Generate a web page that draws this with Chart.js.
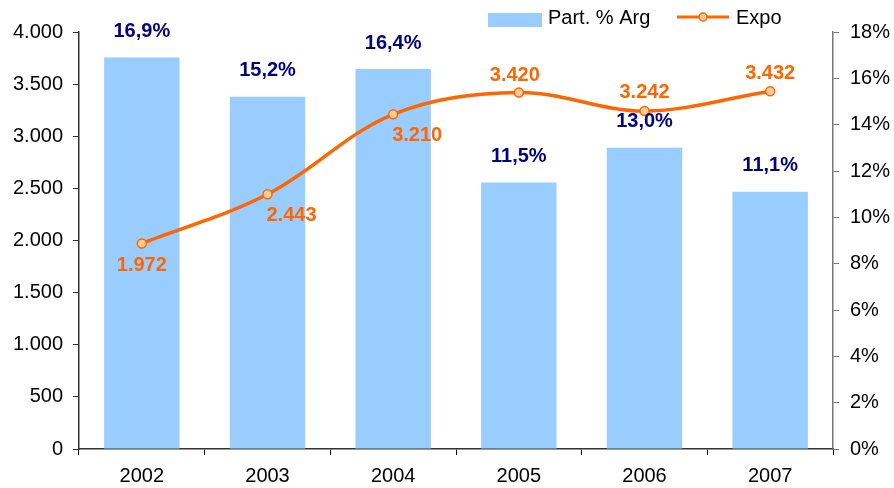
<!DOCTYPE html>
<html>
<head>
<meta charset="utf-8">
<script src="https://cdn.jsdelivr.net/npm/chart.js@4.4.0/dist/chart.umd.min.js"></script>
<style>
  body { margin: 0; background: #fff; }
  #wrap { width: 894px; height: 488px; }
</style>
</head>
<body>
<div id="wrap"><canvas id="myChart" width="894" height="488"></canvas></div>
<script>
const years = ["2002", "2003", "2004", "2005", "2006", "2007"];
const partArg = [16.9, 15.2, 16.4, 11.5, 13.0, 11.1];
const expo = [1972, 2443, 3210, 3420, 3242, 3432];

const BAR_COLOR = '#99CCFF';
const LINE_COLOR = '#FF6600';
const NAVY = '#000080';
const FONT = '"Liberation Sans", Arial, sans-serif';

function fmtThousands(v) {
    return v.toString().replace(/\B(?=(\d{3})+(?!\d))/g, '.');
}

// labels on bars and on the line points
const valueLabels = {
    id: 'valueLabels',
    afterDatasetsDraw(chart) {
        const ctx = chart.ctx;
        ctx.save();
        ctx.font = 'bold 20px ' + FONT;
        ctx.textAlign = 'center';
        ctx.textBaseline = 'middle';

        const barMeta = chart.getDatasetMeta(0);
        ctx.fillStyle = NAVY;
        barMeta.data.forEach((bar, i) => {
            ctx.fillText(partArg[i].toFixed(1).replace('.', ',') + '%', bar.x, bar.y - 26);
        });

        const lineMeta = chart.getDatasetMeta(1);
        // where each Expo label sits relative to its point
        const lineShift = [[0, 22], [24, 21], [24, 21], [-4, -17], [0, -19], [0, -18]];
        ctx.fillStyle = LINE_COLOR;
        lineMeta.data.forEach((pt, i) => {
            ctx.fillText(fmtThousands(expo[i]), pt.x + lineShift[i][0], pt.y + lineShift[i][1]);
        });
        ctx.restore();
    }
};

// legend drawn by hand so the line entry shows line + marker
const customLegend = {
    id: 'customLegend',
    afterDraw(chart) {
        const ctx = chart.ctx;
        ctx.save();
        ctx.font = '20px ' + FONT;
        ctx.textBaseline = 'middle';
        ctx.fillStyle = BAR_COLOR;
        ctx.fillRect(488, 13, 54, 14);
        ctx.fillStyle = '#000';
        ctx.fillText('Part. % Arg', 548, 18);

        ctx.strokeStyle = LINE_COLOR;
        ctx.lineWidth = 3;
        ctx.beginPath();
        ctx.moveTo(677, 17);
        ctx.lineTo(729, 17);
        ctx.stroke();
        ctx.beginPath();
        ctx.arc(703, 17, 4, 0, Math.PI * 2);
        ctx.fillStyle = '#FFCC99';
        ctx.fill();
        ctx.lineWidth = 1.5;
        ctx.stroke();
        ctx.fillStyle = '#000';
        ctx.fillText('Expo', 736, 18);
        ctx.restore();
    }
};

const ctx = document.getElementById('myChart').getContext('2d');
const myChart = new Chart(ctx, {
    data: {
        labels: years,
        datasets: [
            {
                type: 'bar',
                label: 'Part. % Arg',
                data: partArg,
                yAxisID: 'y1',
                backgroundColor: BAR_COLOR,
                borderWidth: 0,
                barPercentage: 0.6,
                categoryPercentage: 1.0,
                order: 2
            },
            {
                type: 'line',
                label: 'Expo',
                data: expo,
                yAxisID: 'y',
                borderColor: LINE_COLOR,
                borderWidth: 3.5,
                tension: 0.35,
                pointRadius: 4.5,
                pointBorderWidth: 1.5,
                pointBackgroundColor: '#FFCC99',
                pointBorderColor: LINE_COLOR,
                order: 1
            }
        ]
    },
    options: {
        responsive: false,
        animation: false,
        layout: { padding: { top: 32, left: 11, right: 4, bottom: 0 } },
        plugins: {
            legend: { display: false },
            tooltip: { enabled: false }
        },
        scales: {
            x: {
                offset: true,
                afterFit: s => { s.height = 39; },
                grid: {
                    offset: true,
                    drawOnChartArea: false,
                    tickLength: 6,
                    color: '#000'
                },
                border: { color: '#333', width: 1.5 },
                ticks: { color: '#000', font: { family: FONT, size: 20 }, padding: 9 }
            },
            y: {
                position: 'left',
                min: 0,
                max: 4000,
                afterFit: s => { s.width = 68; },
                ticks: {
                    stepSize: 500,
                    color: '#000',
                    font: { family: FONT, size: 20 },
                    padding: 10,
                    callback: v => fmtThousands(v)
                },
                grid: { drawOnChartArea: false, tickLength: 6, color: '#333' },
                border: { color: '#333', width: 1.5 }
            },
            y1: {
                position: 'right',
                min: 0,
                max: 18,
                afterFit: s => { s.width = 57; },
                ticks: {
                    stepSize: 2,
                    color: '#000',
                    font: { family: FONT, size: 20 },
                    padding: 11,
                    callback: v => v + '%'
                },
                grid: { drawOnChartArea: false, tickLength: 6, color: '#777' },
                border: { color: '#777', width: 1.5 }
            }
        }
    },
    plugins: [valueLabels, customLegend]
});
</script>
</body>
</html>
